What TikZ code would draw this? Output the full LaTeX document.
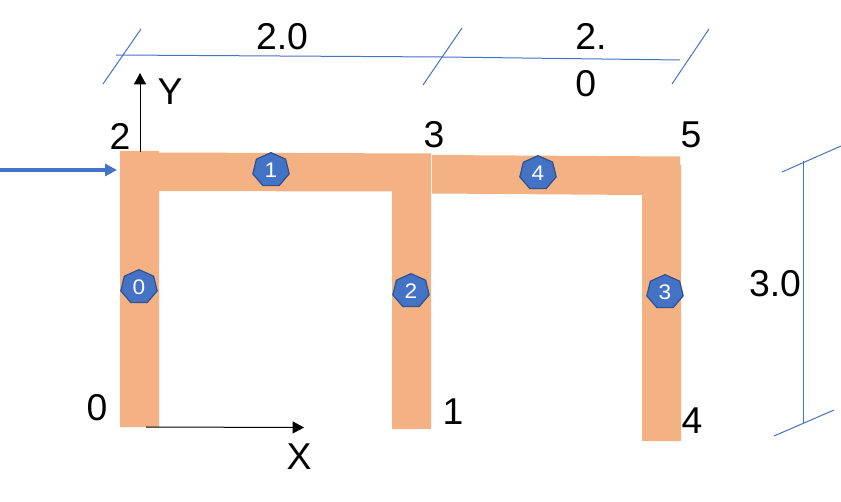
\documentclass[tikz,border=0pt]{standalone}
\usepackage{fontspec}
\setmainfont{Liberation Sans}
\usetikzlibrary{arrows.meta,shapes.geometric}
\definecolor{framefill}{HTML}{F4B183}
\definecolor{blued}{HTML}{4472C4}
\definecolor{bluedark}{HTML}{2F528F}
\tikzset{
    memberid/.style={regular polygon,regular polygon sides=7,draw=bluedark,line width=0.9pt,
        fill=blued,text=white,font=\fontsize{17}{19}\selectfont,minimum size=28pt,inner sep=0pt,
        transform shape,yscale=0.93},
    lbl/.style={font=\fontsize{28}{30}\selectfont,text=black,inner sep=0pt},
    dimline/.style={blued,line width=0.75pt},
    axisline/.style={black,line width=0.75pt,-{Triangle[length=8.5pt,width=9pt]}},
}

\begin{document}
\begin{tikzpicture}[x=0.75pt,y=-0.75pt]
    \useasboundingbox (0,0) rectangle (841,502);

    % frame members
    \fill[framefill] (120,151) -- (159,151) -- (159,152.5) -- (431,153.5) -- (431,429) -- (392,429)
        -- (392,191.5) -- (159,191) -- (159,427) -- (120,427) -- cycle;
    \fill[framefill] (432,155) -- (680,156.5) -- (680,165) -- (681,165) -- (681,441) -- (642,441)
        -- (642,195) -- (432,193.5) -- cycle;

    % axes and load
    \coordinate (origin) at (146,427);
    \coordinate (top) at (140,152);
    \coordinate (ytip) at (140,73);
    \coordinate (xtip) at (304,427.5);
    \coordinate (loadstart) at (0,170);
    \coordinate (loadend) at (117,170);
    \draw[axisline] (top) -- (ytip);
    \draw[axisline] (origin) -- (xtip);
    \draw[blued,line width=2.4pt,-{Triangle[length=9pt,width=9pt]}] (loadstart) -- (loadend);

    % dimensions on top
    \coordinate (dimA) at (116,55);
    \coordinate (dimB) at (443,57);
    \coordinate (dimC) at (680,60);
    \draw[dimline] (dimA) -- (dimB) -- (dimC);
    \coordinate (tickAa) at (141,29);
    \coordinate (tickAb) at (103,84);
    \coordinate (tickBa) at (462,28);
    \coordinate (tickBb) at (423,85);
    \coordinate (tickCa) at (709,29);
    \coordinate (tickCb) at (672,84);
    \draw[dimline] (tickAa) -- (tickAb);
    \draw[dimline] (tickBa) -- (tickBb);
    \draw[dimline] (tickCa) -- (tickCb);

    % dimension on the right
    \coordinate (dimD) at (803.5,161);
    \coordinate (dimE) at (803.5,423);
    \coordinate (tickDa) at (841,146);
    \coordinate (tickDb) at (782,172);
    \coordinate (tickEa) at (834,410);
    \coordinate (tickEb) at (774,436);
    \draw[dimline] (dimD) -- (dimE);
    \draw[dimline] (tickDa) -- (tickDb);
    \draw[dimline] (tickEa) -- (tickEb);

    % member numbers
    \node[memberid] (m0) at (139,287) {0};
    \node[memberid] (m1) at (271,170) {1};
    \node[memberid] (m2) at (411,291) {2};
    \node[memberid] (m3) at (665,292) {3};
    \node[memberid] (m4) at (538,173) {4};

    % joint numbers
    \node[lbl] (j0) at (97,408) {0};
    \node[lbl] (j1) at (453,412) {1};
    \node[lbl] (j2) at (120,136) {2};
    \node[lbl] (j3) at (434,135) {3};
    \node[lbl] (j4) at (692,421) {4};
    \node[lbl] (j5) at (691,135) {5};

    % axis names and lengths
    \node[lbl] (ylabel) at (170,92) {Y};
    \node[lbl] (xlabel) at (299,457) {X};
    \node[lbl] (spanA) at (282,37) {2.0};
    \node[lbl,align=left,anchor=west,font=\fontsize{28}{35}\selectfont] (spanB) at (575,60) {2.\\0};
    \node[lbl] (height) at (775,284) {3.0};
\end{tikzpicture}
\end{document}
